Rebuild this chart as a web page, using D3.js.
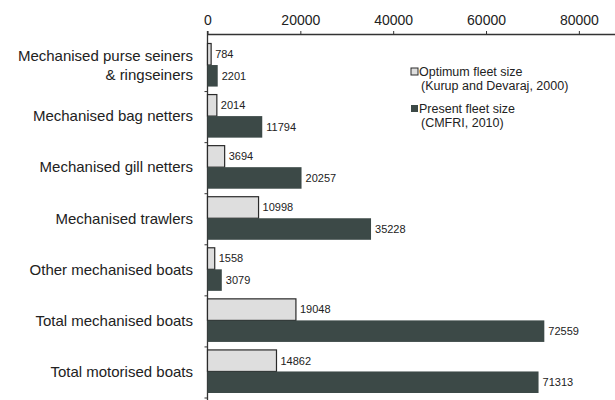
<!DOCTYPE html>
<html>
<head>
<meta charset="utf-8">
<script src="https://cdn.jsdelivr.net/npm/d3@7"></script>
<style>
  body { margin: 0; background: #fff; }
  text { font-family: "Liberation Sans", Arial, sans-serif; fill: #222; }
</style>
</head>
<body>
<div id="chart"></div>
<script>
// categories, top to bottom
const categories = [
    'Mechanised purse seiners\n& ringseiners',
    'Mechanised bag netters',
    'Mechanised gill netters',
    'Mechanised trawlers',
    'Other mechanised boats',
    'Total mechanised boats',
    'Total motorised boats'
];
const optimumFleet = [784, 2014, 3694, 10998, 1558, 19048, 14862];
const presentFleet = [2201, 11794, 20257, 35228, 3079, 72559, 71313];
const seriesNames = ['optimum', 'present'];
const legendLabels = [
    ['Optimum fleet size', '(Kurup and Devaraj, 2000)'],
    ['Present fleet size', '(CMFRI, 2010)']
];
const xTicks = [0, 20000, 40000, 60000, 80000];

const width = 615;
const height = 400;
const colors = { optimum: '#dedede', present: '#3c4947' };

const svg = d3.select('#chart')
    .append('svg')
    .attr('width', width)
    .attr('height', height);

const xScale = d3.scaleLinear()
    .domain([0, 88000])
    .range([207.5, 616]);

const yScale = d3.scaleBand()
    .domain(categories)
    .range([40.5, 398]);

const innerScale = d3.scaleBand()
    .domain(seriesNames)
    .range([3, yScale.bandwidth() - 5]);

const axisTopY = 34;

// top axis
const xAxis = d3.axisTop(xScale)
    .tickValues(xTicks)
    .tickSize(3)
    .tickSizeOuter(0)
    .tickPadding(6)
    .tickFormat(d3.format('d'));

const gx = svg.append('g')
    .attr('transform', `translate(0, ${axisTopY})`)
    .call(xAxis);
gx.select('.domain').attr('stroke', '#333').attr('stroke-width', 1.3);
gx.selectAll('.tick line').attr('stroke', '#333');
gx.selectAll('.tick text')
    .style('font-size', '14px')
    .attr('fill', '#222');

// left axis line + boundary ticks
const left = xScale(0);
svg.append('line')
    .attr('x1', left).attr('x2', left)
    .attr('y1', axisTopY - 3).attr('y2', height)
    .attr('stroke', '#333')
    .attr('stroke-width', 1.3);

const boundaries = categories.slice(1).map(c => yScale(c)).concat([yScale.range()[1]]);
svg.append('g')
    .selectAll('line')
    .data(boundaries)
    .join('line')
    .attr('x1', left - 3).attr('x2', left)
    .attr('y1', d => d).attr('y2', d => d)
    .attr('stroke', '#333');

// category labels
const labels = svg.append('g')
    .selectAll('text')
    .data(categories)
    .join('text')
    .attr('x', 193)
    .attr('text-anchor', 'end')
    .style('font-size', '15px');

labels.each(function (d) {
    const lines = d.split('\n');
    const cy = yScale(d) + yScale.bandwidth() / 2 - 1;
    const lh = 19;
    d3.select(this)
        .selectAll('tspan')
        .data(lines)
        .join('tspan')
        .attr('x', 193)
        .attr('y', (l, i) => cy + (i - (lines.length - 1) / 2) * lh)
        .attr('dy', '0.35em')
        .text(l => l);
});

// bars
const rows = categories.map((c, i) => ({
    category: c,
    values: [
        { key: 'optimum', value: optimumFleet[i] },
        { key: 'present', value: presentFleet[i] }
    ]
}));

const groups = svg.append('g')
    .selectAll('g')
    .data(rows)
    .join('g')
    .attr('transform', d => `translate(0, ${yScale(d.category)})`);

groups.selectAll('rect')
    .data(d => d.values)
    .join('rect')
    .attr('x', xScale(0))
    .attr('y', d => innerScale(d.key))
    .attr('width', d => xScale(d.value) - xScale(0))
    .attr('height', innerScale.bandwidth())
    .attr('fill', d => colors[d.key])
    .attr('stroke', d => d.key === 'optimum' ? '#2a2a2a' : 'none')
    .attr('stroke-width', 1.2);

groups.selectAll('text')
    .data(d => d.values)
    .join('text')
    .attr('x', d => xScale(d.value) + 4)
    .attr('y', d => innerScale(d.key) + innerScale.bandwidth() / 2)
    .attr('dy', '0.35em')
    .style('font-size', '11px')
    .text(d => d.value);

// legend
const legend = svg.append('g')
    .attr('transform', 'translate(411, 68)');

const legendItems = legend.selectAll('g')
    .data(seriesNames)
    .join('g')
    .attr('transform', (d, i) => `translate(0, ${i * 37})`);

legendItems.append('rect')
    .attr('width', 7)
    .attr('height', 7)
    .attr('fill', d => colors[d])
    .attr('stroke', d => d === 'optimum' ? '#2a2a2a' : 'none');

legendItems.each(function (d, i) {
    const g = d3.select(this);
    g.append('text')
        .attr('x', 8)
        .attr('y', 8)
        .style('font-size', '12.5px')
        .text(legendLabels[i][0]);
    g.append('text')
        .attr('x', 10)
        .attr('y', 22)
        .style('font-size', '12.5px')
        .text(legendLabels[i][1]);
});
</script>
</body>
</html>
